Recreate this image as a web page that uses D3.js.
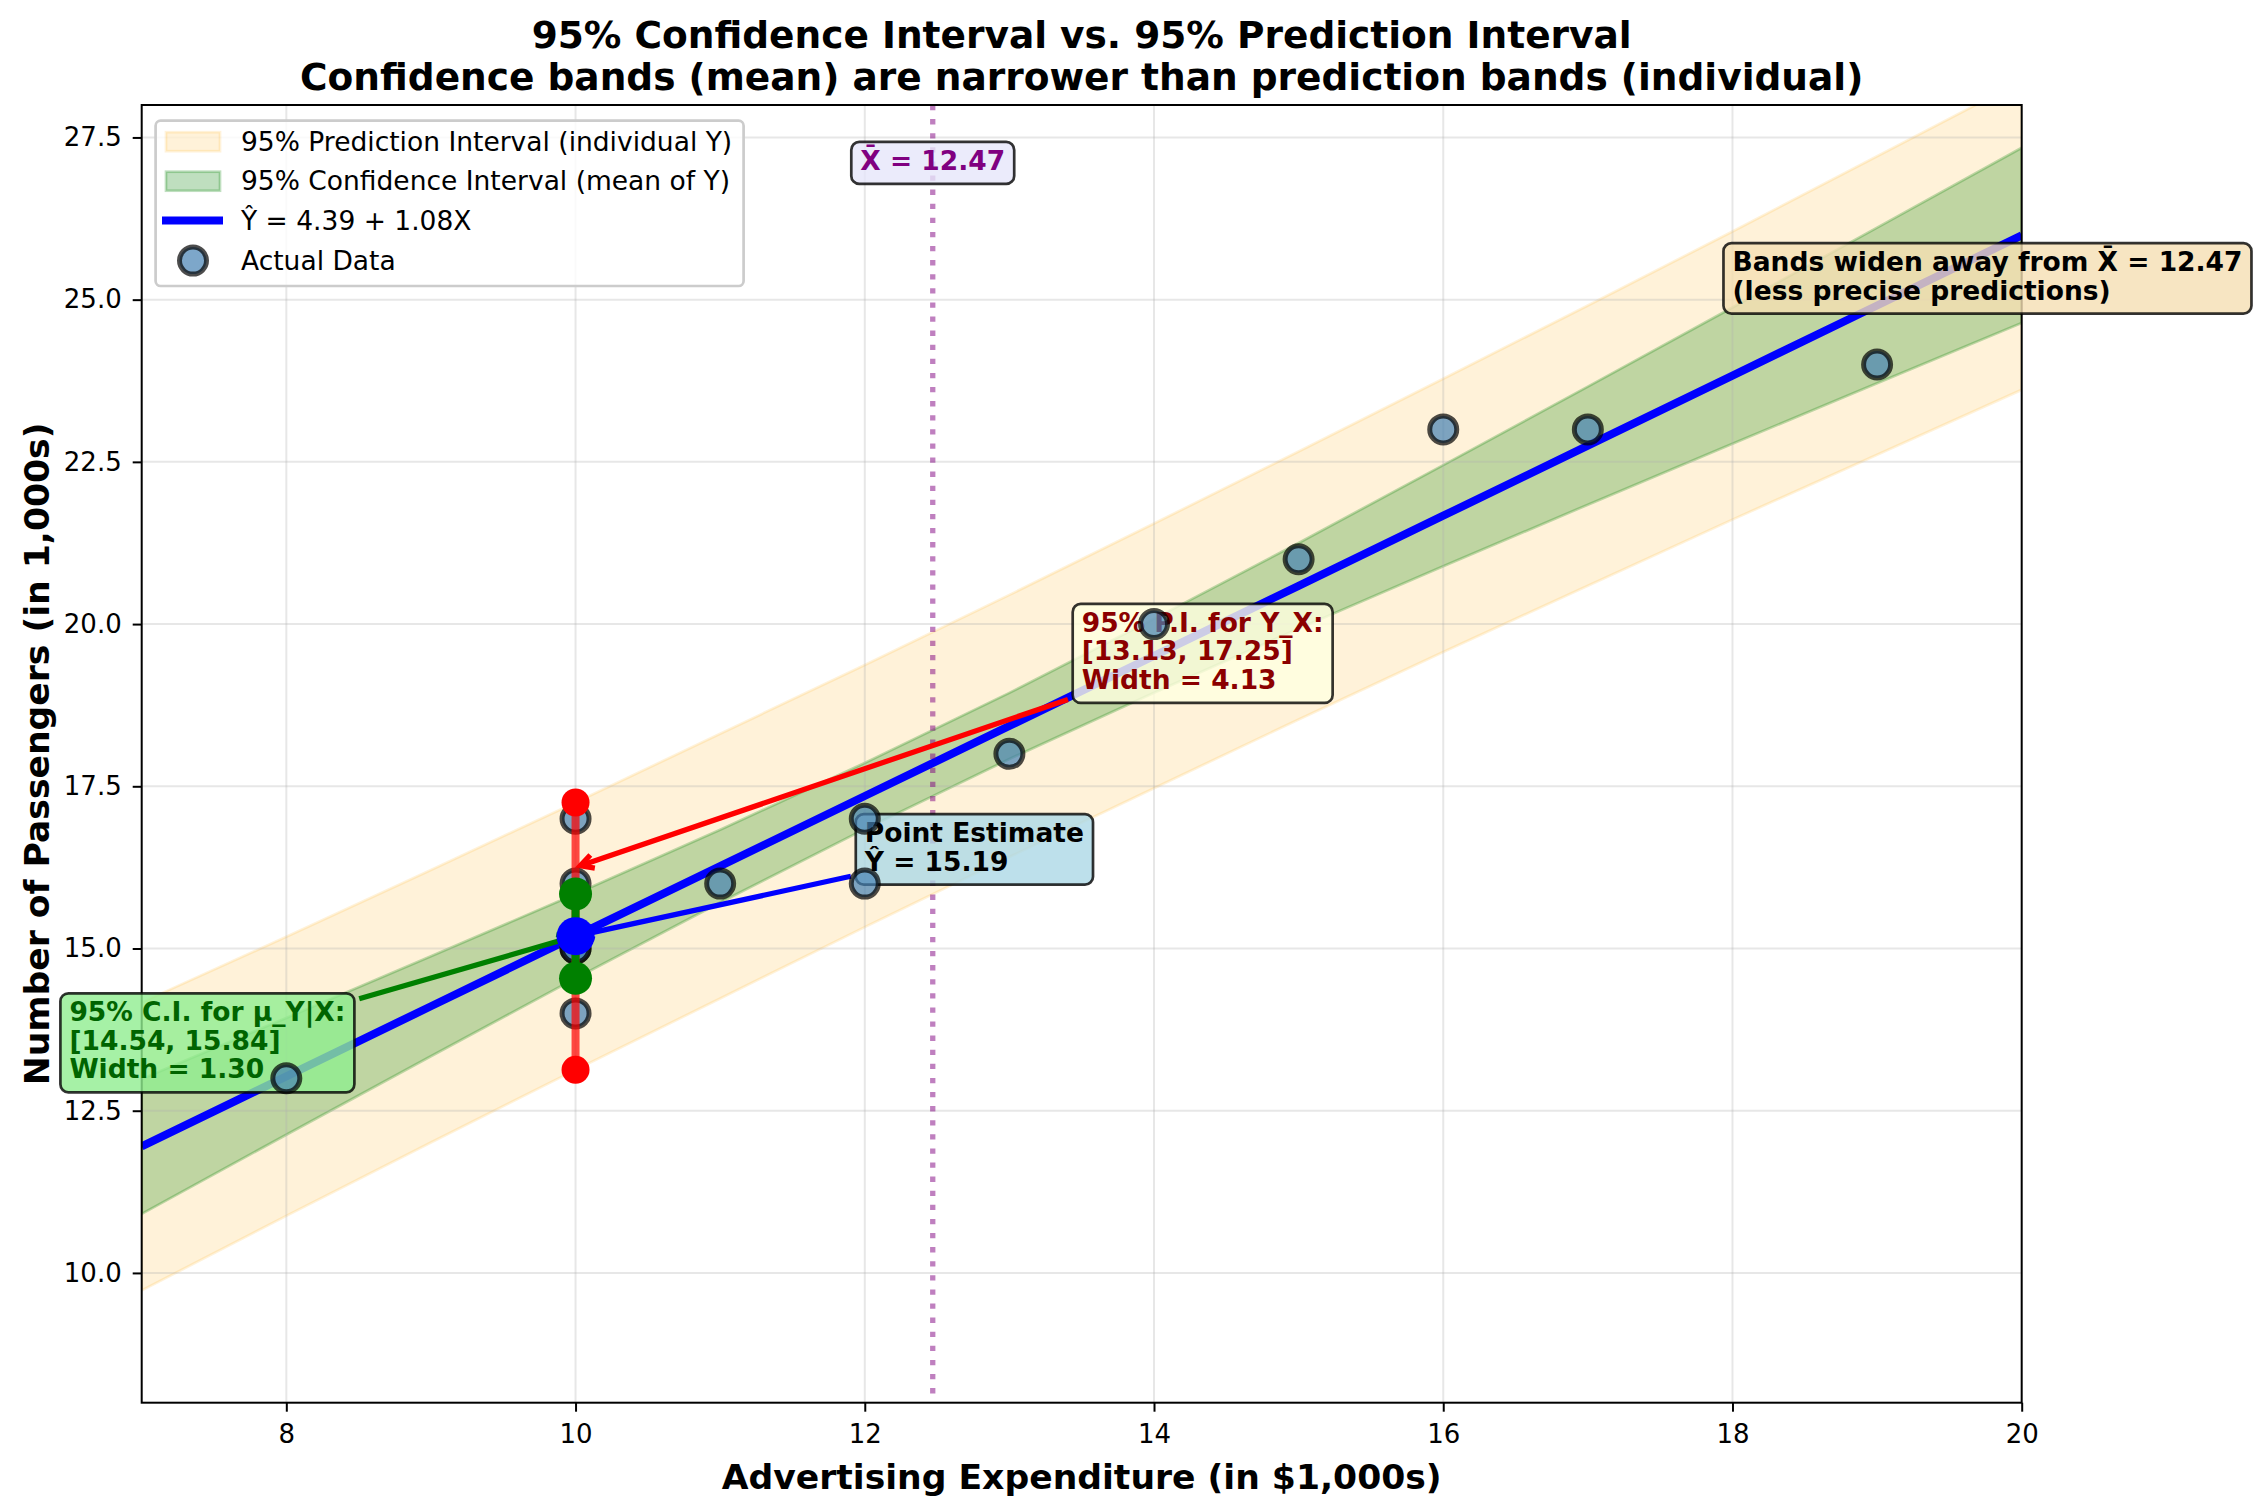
<!DOCTYPE html>
<html>
<head>
<meta charset="utf-8">
<script src="https://cdn.jsdelivr.net/npm/d3@7"></script>
<style>
  body { margin: 0; background: #fff; }
  svg { display: block; font-family: "DejaVu Sans", sans-serif; }
</style>
</head>
<body>
<script>
// observed data: advertising spend vs passengers (both in 1,000s)
var adSpend    = [8, 10, 10, 10, 10, 10, 11, 12, 12, 13, 14, 15, 16, 17, 19];
var passengers = [13, 17, 16, 15, 15, 14, 16, 17, 16, 18, 20, 21, 23, 23, 24];

// fitted line and the two bands, read at whole x values across the plot
var bandX   = [7, 8, 9, 10, 11, 12, 13, 14, 15, 16, 17, 18, 19, 20];
var fitY    = [11.95, 13.03, 14.11, 15.19, 16.27, 17.35, 18.43, 19.51, 20.59, 21.67, 22.75, 23.83, 24.91, 25.99];
var ciLower = [10.91, 12.13, 13.34, 14.54, 15.71, 16.84, 17.92, 18.94, 19.93, 20.89, 21.84, 22.78, 23.71, 24.64];
var ciUpper = [12.99, 13.93, 14.88, 15.84, 16.83, 17.86, 18.94, 20.08, 21.25, 22.45, 23.66, 24.88, 26.11, 27.34];
var piLower = [9.73, 10.88, 12.01, 13.13, 14.23, 15.33, 16.41, 17.47, 18.53, 19.57, 20.59, 21.61, 22.61, 23.61];
var piUpper = [14.17, 15.18, 16.21, 17.25, 18.31, 19.37, 20.45, 21.55, 22.66, 23.78, 24.91, 26.05, 27.21, 28.37];

// the single estimate at X = 10
var xBar = 12.47;
var xNew = 10;
var yHatNew = 15.19;
var ciNew = [14.54, 15.84];
var piNew = [13.13, 17.25];
var ciWidth = 1.30;
var piWidth = 4.13;

// axes
var xDomain = [7, 20];
var yDomain = [8, 28];
var xTicks = [8, 10, 12, 14, 16, 18, 20];
var yTicks = [10, 12.5, 15, 17.5, 20, 22.5, 25, 27.5];

var titleLines = ['95% Confidence Interval vs. 95% Prediction Interval',
                  'Confidence bands (mean) are narrower than prediction bands (individual)'];
var xLabel = 'Advertising Expenditure (in $1,000s)';
var yLabel = 'Number of Passengers (in 1,000s)';
var legendLabels = ['95% Prediction Interval (individual Y)',
                    '95% Confidence Interval (mean of Y)',
                    '\u0176 = 4.39 + 1.08X',
                    'Actual Data'];

// layout
var W = 2265, H = 1512;
var plot = {left: 141.7, right: 2021.7, top: 105, bottom: 1402.7};
var baseFont = 26;
var annoFont = 26.5;

var x = d3.scaleLinear().domain(xDomain).range([plot.left, plot.right]);
var y = d3.scaleLinear().domain(yDomain).range([plot.bottom, plot.top]);

var svg = d3.select('body').append('svg')
    .attr('width', W)
    .attr('height', H);

svg.append('rect').attr('width', W).attr('height', H).attr('fill', '#fff');

svg.append('defs').append('clipPath').attr('id', 'plotClip')
  .append('rect')
    .attr('x', plot.left).attr('y', plot.top)
    .attr('width', plot.right - plot.left)
    .attr('height', plot.bottom - plot.top);

var inner = svg.append('g').attr('clip-path', 'url(#plotClip)');
var idx = d3.range(bandX.length);

// prediction band, then confidence band on top
var piArea = d3.area().x(i => x(bandX[i])).y0(i => y(piLower[i])).y1(i => y(piUpper[i]));
var ciArea = d3.area().x(i => x(bandX[i])).y0(i => y(ciLower[i])).y1(i => y(ciUpper[i]));

inner.append('path')
    .attr('d', piArea(idx))
    .attr('fill', 'orange').attr('fill-opacity', 0.15)
    .attr('stroke', 'orange').attr('stroke-opacity', 0.15).attr('stroke-width', 2.7);

inner.append('path')
    .attr('d', ciArea(idx))
    .attr('fill', 'green').attr('fill-opacity', 0.25)
    .attr('stroke', 'green').attr('stroke-opacity', 0.25).attr('stroke-width', 2.7);

// grid sits above the fills
var grid = inner.append('g')
    .attr('stroke', '#b0b0b0').attr('stroke-opacity', 0.3).attr('stroke-width', 2);
grid.selectAll('.gx').data(xTicks).enter().append('line')
    .attr('x1', d => x(d)).attr('x2', d => x(d))
    .attr('y1', plot.top).attr('y2', plot.bottom);
grid.selectAll('.gy').data(yTicks).enter().append('line')
    .attr('y1', d => y(d)).attr('y2', d => y(d))
    .attr('x1', plot.left).attr('x2', plot.right);

// regression line
var fitLine = d3.line().x(i => x(bandX[i])).y(i => y(fitY[i]));
inner.append('path')
    .attr('d', fitLine(idx))
    .attr('fill', 'none')
    .attr('stroke', 'blue')
    .attr('stroke-width', 8);

// mean of X
inner.append('line')
    .attr('x1', x(xBar)).attr('x2', x(xBar))
    .attr('y1', plot.top).attr('y2', plot.bottom)
    .attr('stroke', 'purple').attr('stroke-opacity', 0.5)
    .attr('stroke-width', 5.3)
    .attr('stroke-dasharray', '5.3,8.8');

// spines
svg.append('rect')
    .attr('x', plot.left).attr('y', plot.top)
    .attr('width', plot.right - plot.left)
    .attr('height', plot.bottom - plot.top)
    .attr('fill', 'none').attr('stroke', '#000').attr('stroke-width', 2);

// axes
var xAxis = svg.append('g')
    .attr('transform', 'translate(0,' + plot.bottom + ')')
    .call(d3.axisBottom(x).tickValues(xTicks).tickFormat(d3.format('d')).tickSize(9).tickPadding(12.5));
var yAxis = svg.append('g')
    .attr('transform', 'translate(' + plot.left + ',0)')
    .call(d3.axisLeft(y).tickValues(yTicks).tickFormat(d3.format('.1f')).tickSize(9).tickPadding(11));

[xAxis, yAxis].forEach(function(a){
    a.attr('font-size', baseFont).attr('font-family', '"DejaVu Sans", sans-serif');
    a.select('.domain').remove();
    a.selectAll('.tick line').attr('stroke', '#000').attr('stroke-width', 2);
    a.selectAll('.tick text').attr('fill', '#000');
});

// axis labels and title
svg.append('text')
    .attr('x', (plot.left + plot.right) / 2).attr('y', 1489)
    .attr('text-anchor', 'middle')
    .attr('font-size', 34.6).attr('font-weight', 'bold')
    .text(xLabel);

svg.append('text')
    .attr('transform', 'translate(49,' + (plot.top + plot.bottom) / 2 + ') rotate(-90)')
    .attr('text-anchor', 'middle')
    .attr('font-size', 34.6).attr('font-weight', 'bold')
    .text(yLabel);

svg.selectAll('.title').data(titleLines).enter().append('text')
    .attr('x', (plot.left + plot.right) / 2)
    .attr('y', (d, i) => 48 + i * 42)
    .attr('text-anchor', 'middle')
    .attr('font-size', 37.5).attr('font-weight', 'bold')
    .text(d => d);

// annotations: boxed text, optional arrow from the box to a point
var annotations = [
    {lines: ['X\u0304 = 12.47'], at: [xBar, 27], anchor: 'middle', color: 'purple', box: 'lavender'},
    {lines: ['Bands widen away from X\u0304 = 12.47', '(less precise predictions)'], at: [18, 25], color: '#000', box: 'wheat'},
    {lines: ['95% P.I. for Y_X:', '[' + piNew[0].toFixed(2) + ', ' + piNew[1].toFixed(2) + ']', 'Width = ' + piWidth.toFixed(2)],
     at: [13.5, 19], color: 'darkred', box: 'lightyellow', target: [xNew, piNew[1] - 1], arrow: 'red'},
    {lines: ['Point Estimate', '\u0176 = ' + yHatNew.toFixed(2)],
     at: [12, 16.2], color: '#000', box: 'lightblue', target: [xNew, yHatNew], arrow: 'blue'},
    {lines: ['95% C.I. for \u03bc_Y|X:', '[' + ciNew[0].toFixed(2) + ', ' + ciNew[1].toFixed(2) + ']', 'Width = ' + ciWidth.toFixed(2)],
     at: [6.5, 13], color: 'darkgreen', box: 'lightgreen', target: [xNew, yHatNew], arrow: 'green'}
];

var lineStep = 28.5;
var annoLayer = svg.append('g');

annotations.forEach(function(a){
    var g = annoLayer.append('g');
    var n = a.lines.length;
    var ax = x(a.at[0]);
    var lastBase = y(a.at[1]);
    var arrowG = g.append('g');
    var boxRect = g.append('rect');

    var texts = g.selectAll('text').data(a.lines).enter().append('text')
        .attr('x', ax)
        .attr('y', (d, i) => lastBase - (n - 1 - i) * lineStep)
        .attr('text-anchor', a.anchor || 'start')
        .attr('font-size', annoFont).attr('font-weight', 'bold')
        .attr('fill', a.color)
        .text(d => d);

    var w = 0;
    texts.each(function(){ w = Math.max(w, this.getComputedTextLength()); });
    var left = a.anchor === 'middle' ? ax - w / 2 : ax;
    var bx0 = left - 9, bx1 = left + w + 9;
    var by0 = lastBase - (n - 1) * lineStep - 28, by1 = lastBase + 14;

    boxRect
        .attr('x', bx0).attr('y', by0)
        .attr('width', bx1 - bx0).attr('height', by1 - by0)
        .attr('rx', 8)
        .attr('fill', a.box).attr('fill-opacity', 0.8)
        .attr('stroke', '#000').attr('stroke-opacity', 0.8).attr('stroke-width', 2.7);

    if (a.target){
        // arrow leaves the box on the line from its centre to the target
        var cx = (bx0 + bx1) / 2, cy = (by0 + by1) / 2;
        var tx = x(a.target[0]), ty = y(a.target[1]);
        var dx = tx - cx, dy = ty - cy;
        var len = Math.sqrt(dx * dx + dy * dy);
        var ux = dx / len, uy = dy / len;
        var t0 = Math.min(dx !== 0 ? (bx1 - bx0) / 2 / Math.abs(dx) : 1e9,
                          dy !== 0 ? (by1 - by0) / 2 / Math.abs(dy) : 1e9);
        var sx = cx + dx * t0 + ux * 5, sy = cy + dy * t0 + uy * 5;
        var ex = tx - ux * 5, ey = ty - uy * 5;
        var hl = 13, hw = 7;
        arrowG.append('path')
            .attr('d', 'M' + sx + ',' + sy + 'L' + ex + ',' + ey)
            .attr('stroke', a.arrow).attr('stroke-width', 5.3).attr('fill', 'none');
        arrowG.append('path')
            .attr('d', 'M' + (ex - ux * hl - uy * hw) + ',' + (ey - uy * hl + ux * hw) +
                       'L' + ex + ',' + ey +
                       'L' + (ex - ux * hl + uy * hw) + ',' + (ey - uy * hl - ux * hw))
            .attr('stroke', a.arrow).attr('stroke-width', 5.3).attr('fill', 'none');
    }
});

// scatter points over the annotation boxes
var marks = svg.append('g').attr('clip-path', 'url(#plotClip)');
marks.selectAll('.pt').data(adSpend).enter().append('circle')
    .attr('cx', d => x(d))
    .attr('cy', (d, i) => y(passengers[i]))
    .attr('r', 13.5)
    .attr('fill', 'steelblue').attr('fill-opacity', 0.7)
    .attr('stroke', '#000').attr('stroke-opacity', 0.7).attr('stroke-width', 5);

// prediction interval at X = 10 with its end points
marks.append('line')
    .attr('x1', x(xNew)).attr('x2', x(xNew))
    .attr('y1', y(piNew[0])).attr('y2', y(piNew[1]))
    .attr('stroke', 'red').attr('stroke-opacity', 0.7).attr('stroke-width', 8);
marks.selectAll('.pi').data(piNew).enter().append('circle')
    .attr('cx', x(xNew)).attr('cy', d => y(d)).attr('r', 14).attr('fill', 'red');

// confidence interval ends, then point estimate
marks.append('line')
    .attr('x1', x(xNew)).attr('x2', x(xNew))
    .attr('y1', y(ciNew[0])).attr('y2', y(ciNew[1]))
    .attr('stroke', 'green').attr('stroke-width', 8);
marks.selectAll('.ci').data(ciNew).enter().append('circle')
    .attr('cx', x(xNew)).attr('cy', d => y(d)).attr('r', 16.5).attr('fill', 'green');
marks.append('circle')
    .attr('cx', x(xNew)).attr('cy', y(yHatNew)).attr('r', 19).attr('fill', 'blue');

// legend
var legend = svg.append('g');
legend.append('rect')
    .attr('x', 155.6).attr('y', 120.7).attr('width', 588).attr('height', 165.3)
    .attr('rx', 5)
    .attr('fill', '#fff').attr('fill-opacity', 0.8)
    .attr('stroke', '#cccccc').attr('stroke-width', 2.7);

var rowY = [141.7, 181.2, 220.6, 260.6];
legend.append('rect')
    .attr('x', 166).attr('y', rowY[0] - 9.5).attr('width', 54).attr('height', 19)
    .attr('fill', 'orange').attr('fill-opacity', 0.15)
    .attr('stroke', 'orange').attr('stroke-opacity', 0.15).attr('stroke-width', 2.7);
legend.append('rect')
    .attr('x', 166).attr('y', rowY[1] - 9.5).attr('width', 54).attr('height', 19)
    .attr('fill', 'green').attr('fill-opacity', 0.25)
    .attr('stroke', 'green').attr('stroke-opacity', 0.25).attr('stroke-width', 2.7);
legend.append('line')
    .attr('x1', 162).attr('x2', 223).attr('y1', rowY[2]).attr('y2', rowY[2])
    .attr('stroke', 'blue').attr('stroke-width', 8);
legend.append('circle')
    .attr('cx', 193).attr('cy', rowY[3]).attr('r', 13.5)
    .attr('fill', 'steelblue').attr('fill-opacity', 0.7)
    .attr('stroke', '#000').attr('stroke-opacity', 0.7).attr('stroke-width', 5);

legend.selectAll('.lt').data(legendLabels).enter().append('text')
    .attr('x', 241)
    .attr('y', (d, i) => rowY[i] + 9)
    .attr('font-size', 26.5)
    .text(d => d);
</script>
</body>
</html>
